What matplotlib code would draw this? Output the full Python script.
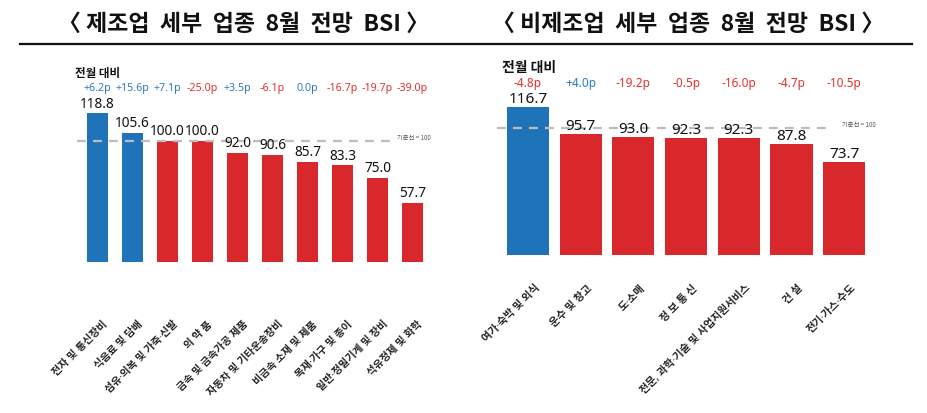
import matplotlib
matplotlib.use("Agg")
import matplotlib.pyplot as plt
from matplotlib.lines import Line2D

plt.rcParams['font.family'] = ['Noto Sans CJK KR', 'DejaVu Sans']
MIX = ['Noto Sans', 'Noto Sans CJK KR', 'DejaVu Sans']

# ---- data ----
mfg_categories = ["전자 및 통신장비", "식음료 및 담배", "섬유·의복 및 가죽·신발", "의 약 품",
                  "금속 및 금속가공 제품", "자동차 및 기타운송장비", "비금속 소재 및 제품",
                  "목재·가구 및 종이", "일반·정밀기계 및 장비", "석유정제 및 화학"]
mfg_values = [118.8, 105.6, 100.0, 100.0, 92.0, 90.6, 85.7, 83.3, 75.0, 57.7]
mfg_changes = [6.2, 15.6, 7.1, -25.0, 3.5, -6.1, 0.0, -16.7, -19.7, -39.0]

non_categories = ["여가·숙박 및 외식", "운수 및 창고", "도·소매", "정 보 통 신",
                  "전문, 과학·기술 및 사업지원서비스", "건 설", "전기·가스·수도"]
non_values = [116.7, 95.7, 93.0, 92.3, 92.3, 87.8, 73.7]
non_changes = [-4.8, 4.0, -19.2, -0.5, -16.0, -4.7, -10.5]

baseline = 100
titles = ["〈 제조업  세부  업종  8월  전망  BSI 〉", "〈 비제조업  세부  업종  8월  전망  BSI 〉"]

BLUE = "#1f74b9"
RED = "#d8282b"
TXT_BLUE = "#2b7cbd"
TXT_RED = "#e0302f"

W, H = 927, 413
fig = plt.figure(figsize=(W / 100, H / 100), dpi=100)


def px_axes(x0, y0, x1, y1):
    return fig.add_axes([x0 / W, 1 - y1 / H, (x1 - x0) / W, (y1 - y0) / H])


def fmt_change(c):
    return ("+" if c > 0 else "") + f"{c:.1f}p"


def panel(ax, cats, vals, chgs, xlim, ylim, bw, val_fs, val_off, chg_fs, chg_y, head_xy,
          head_fs, line_x, lab_x, lab_y, tick_off, tick_fs):
    ax.set_xlim(*xlim)
    ax.set_ylim(*ylim)
    ax.axis("off")
    xs = list(range(len(vals)))
    colors = [BLUE if v > baseline else RED for v in vals]
    ax.bar(xs, vals, width=bw, color=colors, zorder=2)
    ax.plot(line_x, [baseline, baseline], color="#bdbdbd", lw=1.6,
            dashes=(4, 3.2), zorder=3, clip_on=False)
    ax.text(lab_x, lab_y, "기준선 = 100", fontsize=4.5, color="#555555",
            ha="left", va="center")
    for x, v, c in zip(xs, vals, chgs):
        ax.annotate(f"{v:.1f}", (x, v), xytext=(0, val_off), textcoords="offset points",
                    ha="center", va="bottom", fontsize=val_fs, color="#111111",
                    family=MIX, annotation_clip=False)
        ax.text(x, chg_y, fmt_change(c), ha="center", va="center", fontsize=chg_fs,
                family=MIX, color=(TXT_BLUE if c >= 0 else TXT_RED), clip_on=False)
    ax.text(head_xy[0], head_xy[1], "전월 대비", ha="center", va="center",
            fontsize=head_fs, fontweight="bold", color="#111111", clip_on=False)
    for x, lab in zip(xs, cats):
        ax.annotate(lab, (x, ylim[0]), xytext=tick_off, textcoords="offset points",
                    ha="right", va="top", rotation=45, rotation_mode="anchor",
                    fontsize=tick_fs, fontweight="bold", family=MIX,
                    color="#222222", annotation_clip=False)


# left panel: bar centres 97.5 + 35*i px, baseline at y=141 px, 1.466 px per unit
axL = px_axes(40, 55, 455, 262)
s = 1.466
panel(axL, mfg_categories, mfg_values, mfg_changes,
      xlim=((40 - 97.5) / 35, (455 - 97.5) / 35),
      ylim=(100 - (262 - 141) / s, 100 + (141 - 55) / s),
      bw=0.6, val_fs=9.8, val_off=1.2, chg_fs=7.7, chg_y=100 + (141 - 88) / s,
      head_xy=(0.0, 100 + (141 - 73) / s), head_fs=8.3,
      line_x=[(77 - 97.5) / 35, (393 - 97.5) / 35],
      lab_x=(397 - 97.5) / 35, lab_y=100 + (141 - 138.5) / s,
      tick_off=(3.5, -41), tick_fs=7.5)

# right panel: bar centres 528 + 52.7*i px, baseline at y=128 px, 1.28 px per unit
axR = px_axes(475, 55, 905, 255)
s2 = 1.28
panel(axR, non_categories, non_values, non_changes,
      xlim=((475 - 528) / 52.7, (905 - 528) / 52.7),
      ylim=(100 - (255 - 128) / s2, 100 + (128 - 55) / s2),
      bw=0.8, val_fs=11, val_off=0.0, chg_fs=8.5, chg_y=100 + (128 - 83.5) / s2,
      head_xy=(0.02, 100 + (128 - 68) / s2), head_fs=10,
      line_x=[(497 - 528) / 52.7, (832 - 528) / 52.7],
      lab_x=(842 - 528) / 52.7, lab_y=100 + (128 - 125) / s2,
      tick_off=(4.5, -20), tick_fs=7.6)

# titles and underline
fig.text(243 / W, 1 - 24 / H, titles[0], ha="center", va="center",
         fontsize=16.5, fontweight="black", color="#111111")
fig.text(688 / W, 1 - 24 / H, titles[1], ha="center", va="center",
         fontsize=16.5, fontweight="black", color="#111111")
fig.add_artist(Line2D([20 / W, 912 / W], [1 - 44 / H, 1 - 44 / H],
                      color="#111111", lw=1.6, transform=fig.transFigure))

fig.savefig("out.png", dpi=100, facecolor="white")
